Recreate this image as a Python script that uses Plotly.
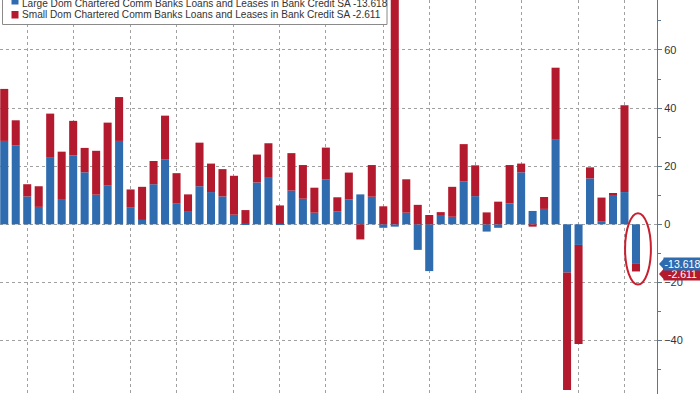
import plotly.graph_objects as go

# Weekly changes, stacked (relative) bars
large = [28.7, 27.2, 9.6, 6.0, 22.9, 8.7, 23.7, 17.9, 10.2, 13.3,
         28.7, 5.9, 1.5, 13.8, 22.4, 7.1, 4.3, 13.1, 11.1, 9.6,
         3.3, 0.3, 14.4, 16.0, 0.2, 11.6, 8.8, 4.0, 15.5, 4.5,
         8.6, 10.3, 9.5, -1.2, -0.8, 4.0, -8.8, -16.1, 3.2, 2.6,
         14.7, 9.7, -2.5, -1.2, 7.2, 17.9, 4.6, 5.3, 29.1, -16.6,
         -7.1, 15.8, 0.9, 10.3, 11.1, -13.618]
small = [17.9, 8.6, 4.2, 7.1, 15.2, 16.3, 11.9, 8.4, 15.1, 21.7,
         15.1, 6.1, 11.4, 8.0, 15.0, 10.5, 6.0, 15.0, 9.8, 9.4,
         13.4, 4.6, 9.6, 11.9, 6.3, 12.9, 11.6, 8.6, 10.9, 4.8,
         9.2, -5.2, 10.9, 6.2, 95.0, 11.5, 6.7, 3.2, 1.0, 10.3,
         12.9, 10.6, 4.1, 7.8, 13.2, 3.0, -0.8, 4.1, 24.8, -40.4,
         -34.1, 3.8, 8.3, 0.2, 29.9, -2.611]
weeks = list(range(len(large)))
month_ticks = [2, 6, 11, 15, 20, 24, 28, 33, 37, 41, 45, 50, 54]
y_ticks = [60, 40, 20, 0, -20, -40]

name_large = "Large Dom Chartered Comm Banks Loans and Leases in Bank Credit SA"
name_small = "Small Dom Chartered Comm Banks Loans and Leases in Bank Credit SA"

BLUE = "#2f6baf"
RED = "#b41a2e"

fig = go.Figure()
fig.add_trace(go.Bar(x=weeks, y=large, name=name_large, marker_color=BLUE,
                     marker_line_width=0, width=0.7))
fig.add_trace(go.Bar(x=weeks, y=small, name=name_small, marker_color=RED,
                     marker_line_width=0, width=0.7))

PLOT_W = 657.0
PLOT_H = 394.0

def px(xp):
    return xp / PLOT_W

def py(yp):
    return 1 - yp / PLOT_H

shapes = []
annotations = []

# custom legend box
shapes.append(dict(type="rect", xref="paper", yref="paper",
                   x0=px(2.5), x1=px(387), y0=py(24.5), y1=py(-6),
                   fillcolor="white", line=dict(color="#8a8a8a", width=1),
                   layer="above"))
shapes.append(dict(type="rect", xref="paper", yref="paper",
                   x0=px(11.5), x1=px(18.5), y0=py(4.5), y1=py(-3),
                   fillcolor=BLUE, line=dict(width=0), layer="above"))
shapes.append(dict(type="rect", xref="paper", yref="paper",
                   x0=px(11.5), x1=px(18.5), y0=py(18.5), y1=py(11),
                   fillcolor=RED, line=dict(width=0), layer="above"))
legend_font = dict(family="Liberation Sans, Arial", size=10.1, color="#333333")
annotations.append(dict(xref="paper", yref="paper", x=px(20), y=py(3.5),
                        xanchor="left", yanchor="middle", showarrow=False,
                        text=f"{name_large} {large[-1]:.3f}", font=legend_font))
annotations.append(dict(xref="paper", yref="paper", x=px(20), y=py(14.8),
                        xanchor="left", yanchor="middle", showarrow=False,
                        text=f"{name_small} {small[-1]:.3f}", font=legend_font))

# highlight ellipse around the latest bar
shapes.append(dict(type="circle", xref="x", yref="y",
                   x0=weeks[-1] - 0.95, x1=weeks[-1] + 1.3,
                   y0=large[-1] + small[-1] - 4.5, y1=3.8,
                   line=dict(color="#c8202f", width=2), layer="above"))

# last-value tags on the right axis
tag_font = dict(family="Liberation Sans, Arial", size=10.5, color="white")
red_tag_y = large[-1] + small[-1] - 0.9
for yv, col, txt in [(red_tag_y, RED, f"{small[-1]:.3f}"),
                     (large[-1], BLUE, f"{large[-1]:.3f}")]:
    shapes.append(dict(type="path", xref="paper", yref="y",
                       xsizemode="pixel", ysizemode="pixel",
                       xanchor=1, yanchor=yv,
                       path="M 2 0 L 7 5.5 L 7 -5.5 Z",
                       fillcolor=col, line=dict(width=0), layer="above"))
    annotations.append(dict(xref="paper", yref="y", x=1, y=yv,
                            xanchor="left", yanchor="middle", xshift=6,
                            showarrow=False, text=txt, font=tag_font,
                            bgcolor=col, borderpad=0, width=37, align="center"))

fig.update_layout(
    width=700, height=394,
    margin=dict(l=0, r=43, t=0, b=0),
    paper_bgcolor="white", plot_bgcolor="white",
    barmode="relative", bargap=0.3,
    showlegend=False,
    shapes=shapes, annotations=annotations,
    xaxis=dict(range=[-0.37, 56.83], tickvals=month_ticks,
               showticklabels=False, ticks="", showgrid=True,
               gridcolor="#a0a0a0", griddash="dot", gridwidth=1,
               zeroline=False, showline=False),
    yaxis=dict(range=[-58.4, 77.2], side="right", tickvals=y_ticks,
               ticks="outside", ticklen=4, tickcolor="#5b7890",
               showline=True, linecolor="#5b7890", linewidth=1,
               showgrid=True, gridcolor="#a0a0a0", griddash="dot",
               zeroline=False,
               minor=dict(dtick=10, tick0=0, ticks="outside", ticklen=3,
                          tickcolor="#5b7890", showgrid=False),
               tickfont=dict(family="Liberation Sans, Arial", size=11,
                             color="#333333")),
)

fig.write_html("out.html")
